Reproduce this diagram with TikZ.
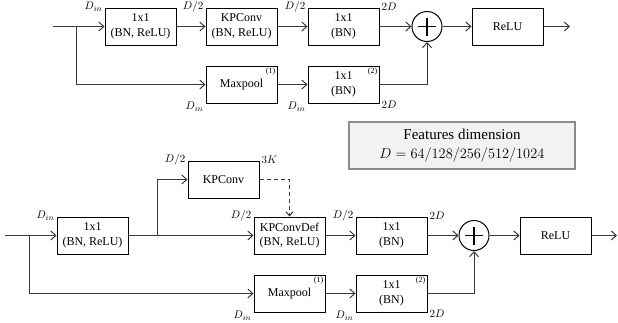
\documentclass[tikz,border=0pt]{standalone}
\usepackage{fontspec}
\setmainfont{Liberation Serif}
\usetikzlibrary{arrows.meta,positioning,calc}
\definecolor{netLine}{HTML}{3A3A3A}
\definecolor{noteFill}{HTML}{F2F2F2}
\definecolor{noteEdge}{HTML}{8C8C8C}

\begin{document}
\begin{tikzpicture}[x=1pt,y=-1pt,font=\fontsize{12}{14.5}\selectfont,node distance=20pt and 30pt,
      box/.style={draw=black,line width=1pt,minimum width=71pt,minimum height=37pt,align=center,inner sep=2pt},
      addop/.style={draw=black,line width=1pt,circle,minimum size=30pt,inner sep=0pt,
        path picture={\draw[line width=1.2pt] ($(path picture bounding box.center)+(-9pt,0pt)$) -- +(18pt,0pt)
          ($(path picture bounding box.center)+(0pt,-9pt)$) -- +(0pt,18pt);}},
      dimlbl/.style={font=\fontsize{11}{12}\selectfont,inner sep=2pt},
      inlbl/.style={dimlbl,anchor=east,yshift=1pt},
      outlbl/.style={dimlbl,anchor=west,yshift=1pt},
      inlow/.style={dimlbl,anchor=east,yshift=-3pt},
      outlow/.style={dimlbl,anchor=west,yshift=-1pt},
      idx/.style={font=\fontsize{8}{9}\selectfont,anchor=north east,inner sep=2pt},
      flow/.style={netLine,line width=1pt,-{Straight Barb[length=5pt,width=9pt]}}]
    \useasboundingbox (0,0) rectangle (618,322);
    % upper block
    \node[box,label={[inlbl]north west:$D_{in}$}] (t1) at (140.5,26.5) {1x1\\(BN, ReLU)};
    \node[box,right=29pt of t1,label={[inlbl]north west:$D/2$}] (t2) {KPConv\\(BN, ReLU)};
    \node[box,right=of t2,label={[inlbl]north west:$D/2$},label={[outlbl]north east:$2D$}] (t3) {1x1\\(BN)};
    \node[addop,right=32pt of t3] (tadd) {};
    \node[box,right=29pt of tadd] (trelu) {ReLU};
    \node[box,below=of t2,label={[inlow]south west:$D_{in}$},label={[idx]north east:(1)}] (tmp) {Maxpool};
    \node[box,below=of t3,label={[inlow]south west:$D_{in}$},label={[outlow]south east:$2D$},
      label={[idx]north east:(2)}] (tsc) {1x1\\(BN)};
    \coordinate (tin) at (53,26.5);
    \coordinate (tsplit) at (76,26.5);
    \coordinate (tout) at (570,26.5);
    \foreach \a/\b in {tin/t1,t1/t2,t2/t3,t3/tadd,tadd/trelu,trelu/tout,tmp/tsc}
      \draw[flow] (\a) -- (\b);
    \draw[flow] (tsplit) |- (tmp);
    \draw[flow] (tsc) -| (tadd);
    % lower block (deformable)
    \node[box,label={[inlbl]north west:$D_{in}$}] (b1) at (92.5,235.5) {1x1\\(BN, ReLU)};
    \node[box,label={[inlbl]north west:$D/2$},label={[outlbl]north east:$3K$}] (boff) at (223.5,179.5) {KPConv};
    \node[box,right=125pt of b1,label={[inlbl]north west:$D/2$}] (bdef) {KPConvDef\\(BN, ReLU)};
    \node[box,right=of bdef,label={[inlbl]north west:$D/2$},label={[outlbl]north east:$2D$}] (b3) {1x1\\(BN)};
    \node[addop,right=31pt of b3] (badd) {};
    \node[box,right=of badd] (brelu) {ReLU};
    \node[box,below=of bdef,label={[inlow]south west:$D_{in}$},label={[idx]north east:(1)}] (bmp) {Maxpool};
    \node[box,below=of b3,label={[inlow]south west:$D_{in}$},label={[outlow]south east:$2D$},
      label={[idx]north east:(2)}] (bsc) {1x1\\(BN)};
    \coordinate (bin) at (5,235.5);
    \coordinate (bsplit) at (29,235.5);
    \coordinate (bfork) at (157,235.5);
    \coordinate (bout) at (617,235.5);
    \foreach \a/\b in {bin/b1,b1/bdef,bdef/b3,b3/badd,badd/brelu,brelu/bout,bmp/bsc}
      \draw[flow] (\a) -- (\b);
    \draw[flow] (bfork) |- (boff);
    \draw[flow] (bsplit) |- (bmp);
    \draw[flow] (bsc) -| (badd);
    \draw[netLine,line width=1pt,dash pattern=on 4pt off 3pt,-{Straight Barb[length=4pt,width=7pt]}] (boff) -| (bdef);
    % legend
    \node[draw=noteEdge,fill=noteFill,line width=1.5pt,minimum width=226pt,minimum height=47pt,align=center,
      font=\fontsize{15}{19}\selectfont] (feat) at (462,145.5) {Features dimension\\$D = 64/128/256/512/1024$};
\end{tikzpicture}
\end{document}
